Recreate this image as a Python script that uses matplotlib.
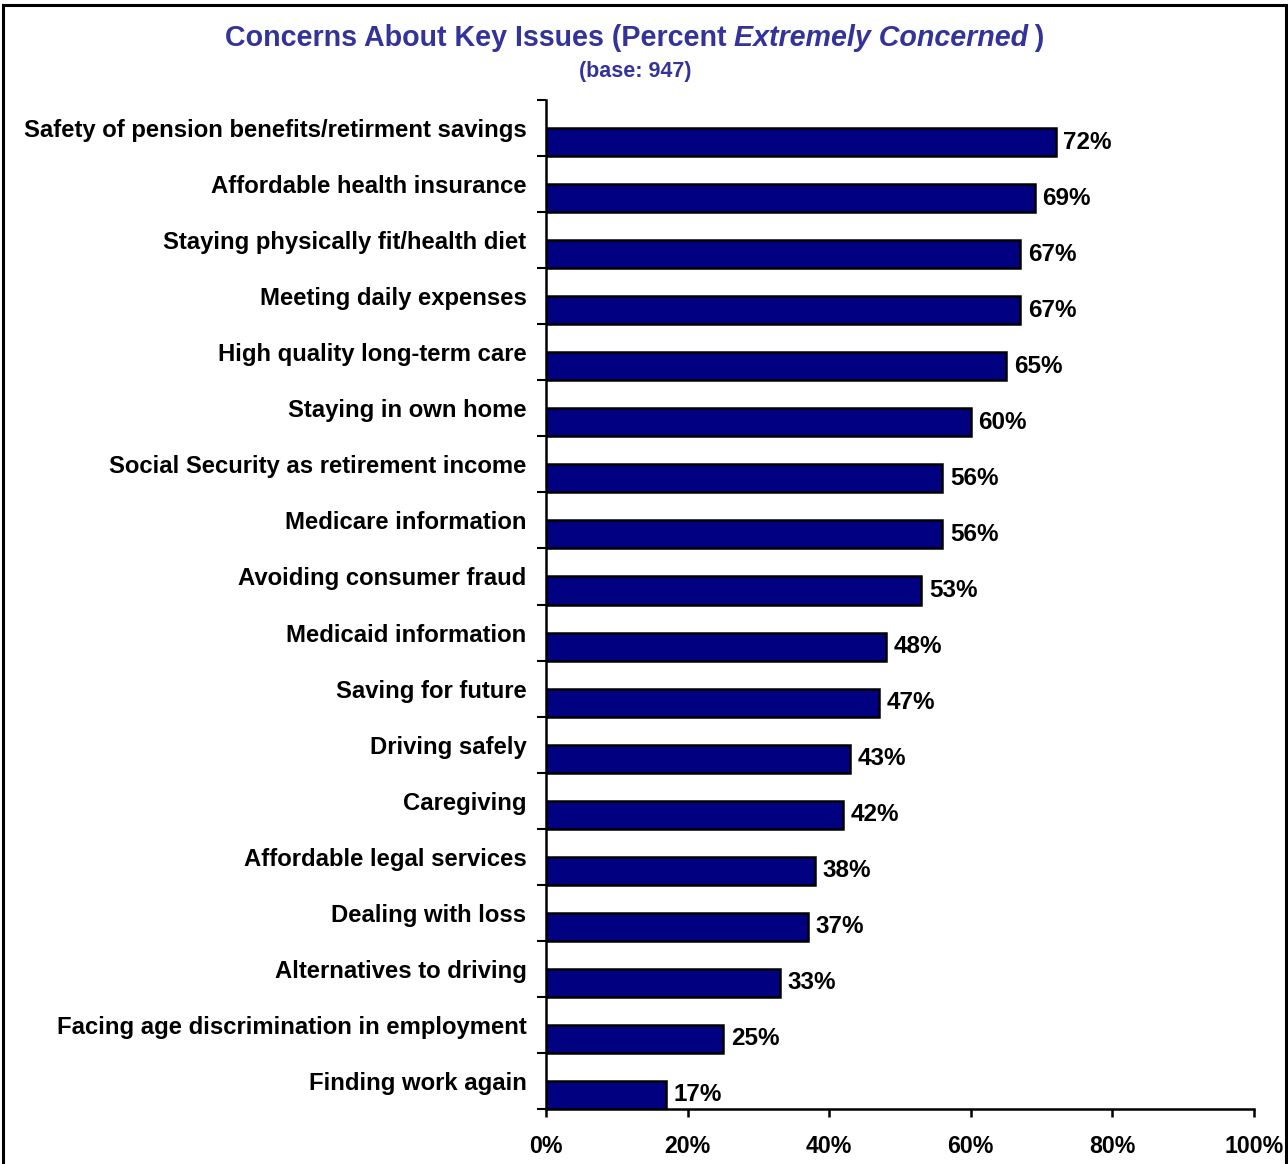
import matplotlib
matplotlib.use("Agg")
import matplotlib.pyplot as plt
from matplotlib.patches import Rectangle
from matplotlib.ticker import FixedLocator, FuncFormatter

plt.rcParams["font.family"] = ["Liberation Sans", "DejaVu Sans"]
plt.rcParams["font.weight"] = "bold"

# survey results, top to bottom
issues = [
    "Safety of pension benefits/retirment savings",
    "Affordable health insurance",
    "Staying physically fit/health diet",
    "Meeting daily expenses",
    "High quality long-term care",
    "Staying in own home",
    "Social Security as retirement income",
    "Medicare information",
    "Avoiding consumer fraud",
    "Medicaid information",
    "Saving for future",
    "Driving safely",
    "Caregiving",
    "Affordable legal services",
    "Dealing with loss",
    "Alternatives to driving",
    "Facing age discrimination in employment",
    "Finding work again",
]
pct_extremely = [72, 69, 67, 67, 65, 60, 56, 56, 53, 48, 47, 43, 42, 38, 37, 33, 25, 17]
x_ticks = [0, 20, 40, 60, 80, 100]

TITLE_BLUE = "#333399"
BAR_NAVY = "#000080"
LABEL_SIZE = 17.2

fig = plt.figure(figsize=(12.88, 11.64), dpi=100)
ax = fig.add_axes([546 / 1288, 1 - 1109 / 1164, 708 / 1288, 1009 / 1164])

ypos = list(range(len(issues)))
# bars sit in the lower half of each category slot
bar_y = [y + 0.25 for y in ypos]
ax.barh(bar_y, pct_extremely, height=0.5, color=BAR_NAVY,
        edgecolor="black", linewidth=1.8, zorder=3)

for y, v in zip(bar_y, pct_extremely):
    ax.annotate(f"{v}%", xy=(v, y), xytext=(5.5, 0), textcoords="offset points",
                va="center", ha="left", fontsize=17.5, fontweight="bold")

ax.set_xlim(0, 100)
ax.set_ylim(len(issues) - 0.5, -0.5)

ax.set_yticks(ypos)
ax.set_yticklabels(issues, fontsize=LABEL_SIZE, fontweight="bold")
ax.tick_params(axis="y", which="major", length=0, pad=14)
ax.yaxis.set_minor_locator(FixedLocator([y + 0.5 for y in range(-1, len(issues))]))
ax.tick_params(axis="y", which="minor", length=6.5, width=1.5, direction="out")

ax.xaxis.set_major_locator(FixedLocator(x_ticks))
ax.xaxis.set_major_formatter(FuncFormatter(lambda v, _: f"{v:.0f}%"))
ax.tick_params(axis="x", length=6, width=1.8, direction="out", pad=13, labelsize=16.7)
for lbl in ax.get_xticklabels():
    lbl.set_fontweight("bold")

for side in ("top", "right"):
    ax.spines[side].set_visible(False)
ax.spines["left"].set_linewidth(1.8)
ax.spines["bottom"].set_linewidth(1.8)

# title: bold with an italic phrase, pieces chained left to right
title_kw = dict(color=TITLE_BLUE, fontsize=20.6, fontweight="bold")
t1 = fig.text(225 / 1288, 1 - 38 / 1164, "Concerns About Key Issues (Percent ",
              va="center", ha="left", **title_kw)
t2 = ax.annotate("Extremely Concerned", xy=(1, 0), xycoords=t1, va="bottom", ha="left",
                 fontstyle="italic", annotation_clip=False, **title_kw)
ax.annotate("\u2009)", xy=(1, 0), xycoords=t2, va="bottom", ha="left",
            annotation_clip=False, **title_kw)
fig.text(635 / 1288, 1 - 71 / 1164, "(base: 947)", color=TITLE_BLUE,
         fontsize=15.5, fontweight="bold", ha="center", va="center")

# frame around the whole chart
fig.patches.append(Rectangle((3 / 1288, -0.02), 1283 / 1288, 1.02 - 5 / 1164,
                             transform=fig.transFigure, fill=False,
                             edgecolor="black", linewidth=2.2))

fig.savefig("out.png", dpi=100)
